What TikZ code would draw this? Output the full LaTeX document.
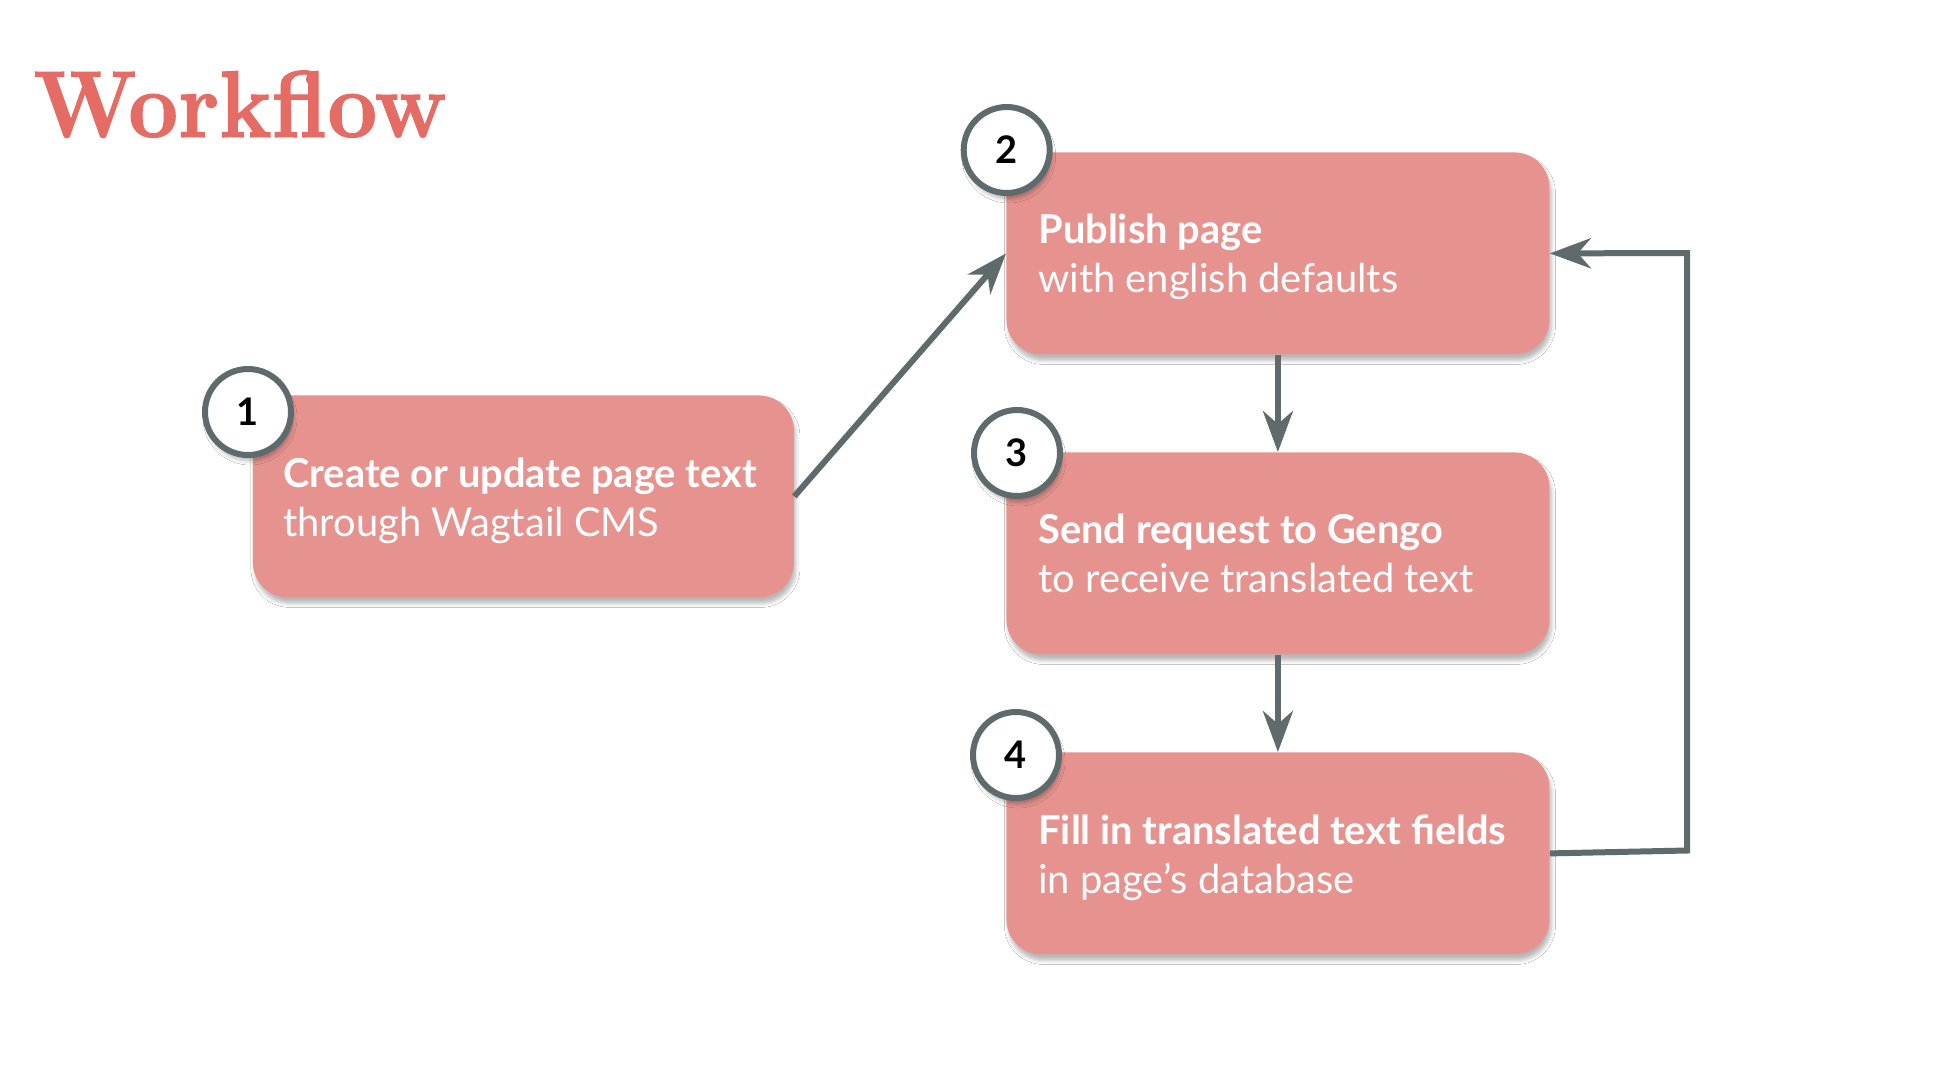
\documentclass[tikz,border=0pt]{standalone}
\usepackage{fontspec}
\newfontfamily\lato{Lato}
\newfontfamily\titlefont{lmroman10-bold.otf}[FakeBold=1.2]
\usetikzlibrary{arrows.meta,shadows.blur}
\definecolor{boxfill}{RGB}{230,147,143}
\definecolor{titlered}{RGB}{229,107,101}
\definecolor{connc}{RGB}{95,106,108}
\begin{document}
\begin{tikzpicture}[x=0.5pt,y=-0.5pt,
  softshadow/.style={blur shadow={shadow xshift=1pt, shadow yshift=-3pt, shadow blur radius=2pt, shadow opacity=28}},
  stepbox/.style={fill=boxfill, rounded corners=17.5pt, minimum height=101pt, inner sep=0pt, anchor=north west, softshadow},
  boxtext/.style={anchor=base west, align=left, inner sep=0pt, text=white, font=\lato\fontsize{19.9}{24.5}\selectfont},
  numcirc/.style={circle, draw=connc, line width=3pt, fill=white, minimum size=43pt, inner sep=0pt, text=black, font=\lato\bfseries\fontsize{19}{19}\selectfont, softshadow},
  connline/.style={draw=connc, line width=3pt, line join=miter, -{Stealth[length=20.5pt,width=15pt,inset=6.5pt]}}
]
\useasboundingbox (0,0) rectangle (1942,1072);
\fill[white] (0,0) rectangle (1942,1072);

\node[anchor=base west, inner sep=0pt, text=titlered, font=\titlefont\fontsize{47.4}{47.4}\selectfont] (title) at (33,137) {\scalebox{0.915}[1]{Workflow}};

\node[stepbox, minimum width=270.5pt] (b1) at (252.5,395) {};
\node[stepbox, minimum width=271.5pt] (b2) at (1006,152) {};
\node[stepbox, minimum width=271.5pt] (b3) at (1006,452) {};
\node[stepbox, minimum width=271.5pt] (b4) at (1006,752) {};

\node[boxtext] (t1) at (283,536) {\textbf{Create or update page text}\\through Wagtail CMS};
\node[boxtext] (t2) at (1038,292) {\textbf{Publish page}\\with english defaults};
\node[boxtext] (t3) at (1038,592) {\textbf{Send request to Gengo}\\to receive translated text};
\node[boxtext] (t4) at (1038,893) {\textbf{Fill in translated text fields}\\in page’s database};

\draw[connline] (b1.east) -- (b2.west);
\draw[connline] (b2.south) -- (b3.north);
\draw[connline] (b3.south) -- (b4.north);
\coordinate (lb) at (1687,850.5);
\coordinate (lt) at (1687,253);
\draw[connline] (b4.east) -- (lb) -- (lt) -- (b2.east);

\node[numcirc] (n1) at (248,412) {1};
\node[numcirc] (n2) at (1006.7,150) {2};
\node[numcirc] (n3) at (1017,453) {3};
\node[numcirc] (n4) at (1016,755) {4};
\end{tikzpicture}
\end{document}
